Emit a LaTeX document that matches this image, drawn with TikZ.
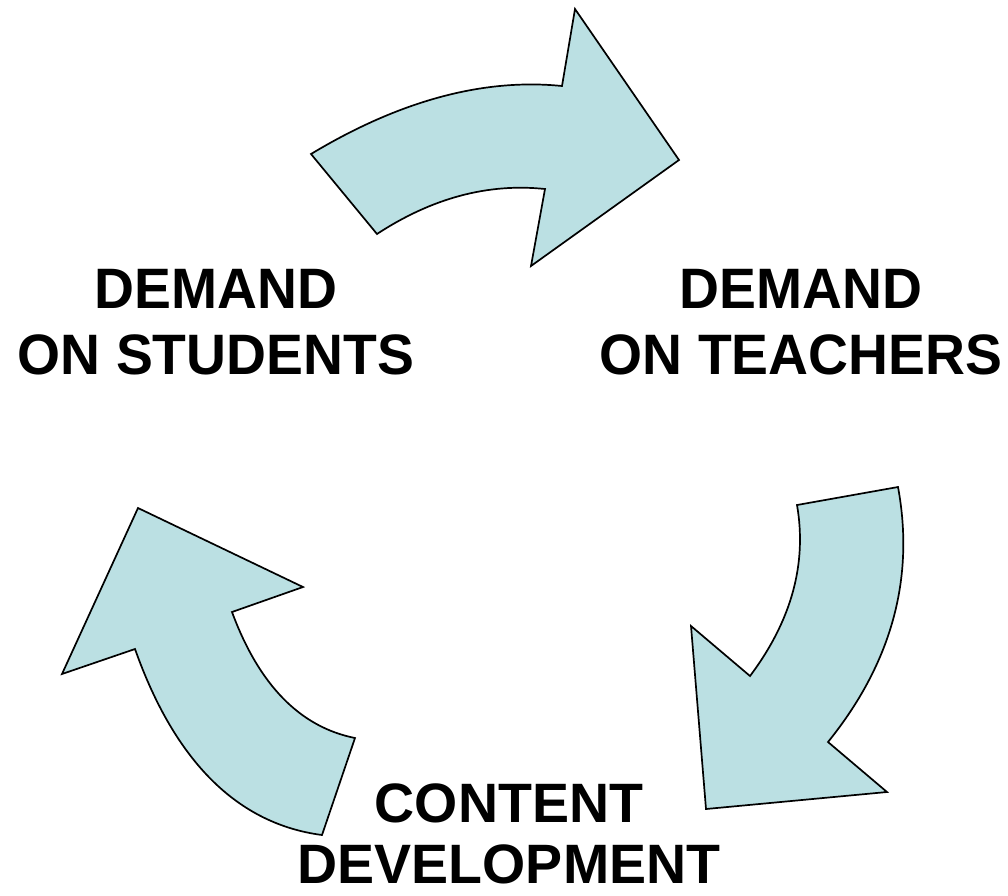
\documentclass[tikz,border=0pt]{standalone}
\usepackage{fontspec}
\setmainfont{Liberation Sans}
\newfontfamily\narrowsans[FakeStretch=0.97]{Liberation Sans}
\usepackage{tikz}
\definecolor{arrowblue}{RGB}{187,224,227}
\tikzset{
  cyclearrow/.style={fill=arrowblue,draw=black,line width=1.7pt,line join=miter},
  toplabel/.style={align=center,inner sep=0pt,font=\narrowsans\bfseries\fontsize{57}{66}\selectfont},
  bottomlabel/.style={align=center,inner sep=0pt,font=\bfseries\fontsize{55.5}{61}\selectfont}
}

\begin{document}
\begin{tikzpicture}[x=1pt,y=-1pt]
\useasboundingbox (0,0) rectangle (1008,895);
% top arrow
\filldraw[cyclearrow] (311,154) .. controls (399,101) and (483,78) .. (562,86)
	-- (575,9) -- (679,160) -- (531,266) -- (545,189)
	.. controls (488,183) and (432,198) .. (377,234) -- cycle;
% right arrow
\filldraw[cyclearrow] (898,487) .. controls (915,579) and (891,664) .. (828,742)
	-- (887,792) -- (706,809) -- (691,626) -- (750,676)
	.. controls (792,620) and (807,563) .. (797,505) -- cycle;
% left arrow
\filldraw[cyclearrow] (322,835) .. controls (238,824) and (175,762) .. (135,649)
	-- (62,674) -- (138,508) -- (303,587) -- (232,612)
	.. controls (259,685) and (300,727) .. (355,738) -- cycle;
% labels
\node[toplabel] (students) at (216,322) {DEMAND\\ON STUDENTS};
\node[toplabel] (teachers) at (801,322) {DEMAND\\ON TEACHERS};
\node[bottomlabel] (content) at (509,834) {CONTENT\\DEVELOPMENT};
\end{tikzpicture}
\end{document}
